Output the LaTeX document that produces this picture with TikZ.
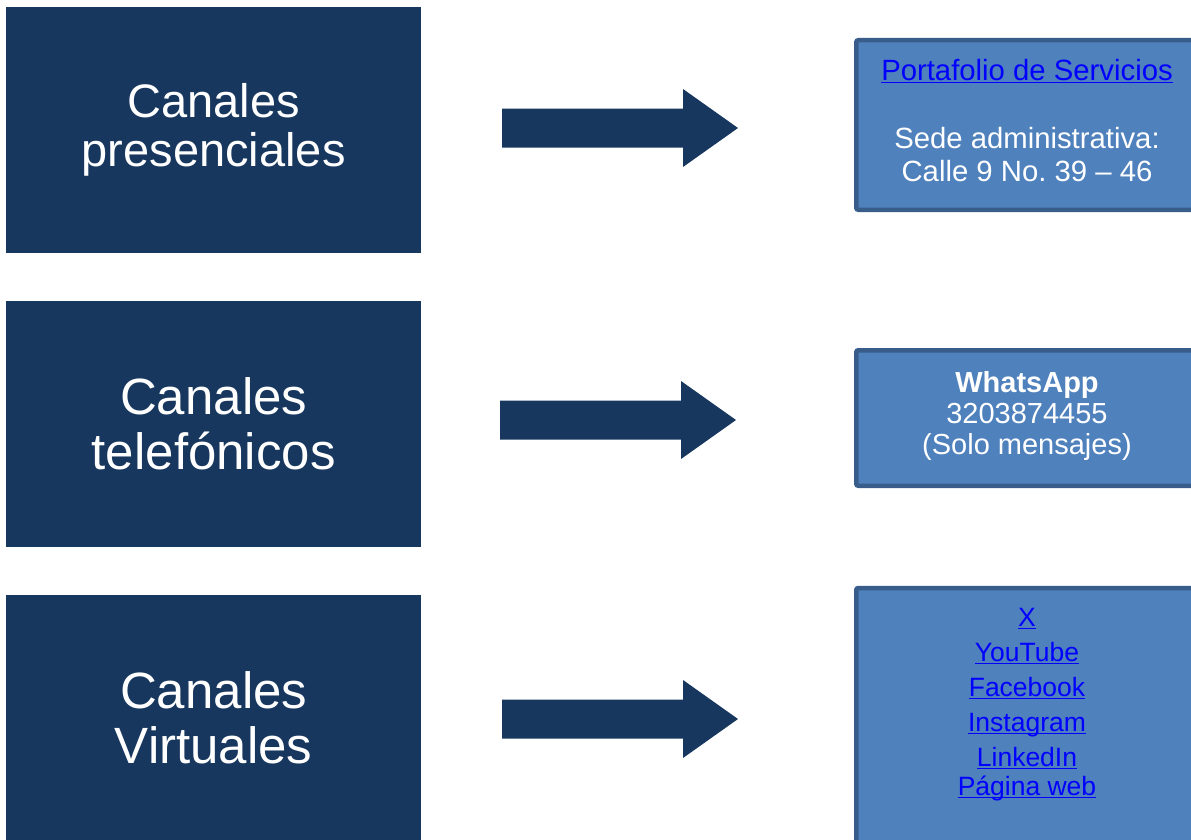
\documentclass[tikz,border=0pt]{standalone}
\usepackage{fontspec}
\setmainfont{Liberation Sans}
\frenchspacing
\definecolor{darkblue}{HTML}{17375E}
\definecolor{midblue}{HTML}{4F81BD}
\definecolor{edgeblue}{HTML}{385D8A}
\definecolor{linkblue}{HTML}{0000FF}
\newcommand\ulink[1]{\setbox0=\hbox{#1}\rlap{\rule[-3bp]{\wd0}{1.8bp}}\box0}
\tikzset{
  leftbox/.style={fill=darkblue, text=white, align=center, inner sep=0pt, anchor=north west,
    minimum width=415bp, minimum height=246bp},
  rightbox/.style={fill=midblue, draw=edgeblue, line width=4.5bp, rounded corners=2bp,
    inner sep=0pt, minimum width=341.5bp},
  infotext/.style={text=white, align=center, inner sep=0pt, anchor=north},
  blockarrow/.style={fill=darkblue}
}
\begin{document}
\begin{tikzpicture}[x=1bp,y=-1bp]
\useasboundingbox (0,0) rectangle (1191,840);
\clip (0,0) rectangle (1191,840);
% left boxes
\node[leftbox, font=\fontsize{47bp}{49bp}\selectfont] (p1) at (6,7) {Canales\\presenciales};
\node[leftbox, font=\fontsize{51bp}{55bp}\selectfont] (p2) at (6,301) {Canales\\telefónicos};
\node[leftbox, font=\fontsize{51bp}{55bp}\selectfont] (p3) at (6,595) {Canales\\Virtuales};
% block arrows
\coordinate (a1) at (502,128);
\coordinate (a2) at (500,420);
\coordinate (a3) at (502,719);
\foreach \a in {a1,a2,a3}{
  \fill[blockarrow] (\a) ++(0,-19.5) -- ++(181,0) -- ++(0,-19.5) -- ++(55,39) -- ++(-55,39)
    -- ++(0,-19.5) -- ++(-181,0) -- cycle;
}
% right boxes
\node[rightbox, minimum height=169.5bp] (r1) at (1027,125) {};
\node[rightbox, minimum height=135.5bp] (r2) at (1027,418) {};
\node[rightbox, minimum height=270bp] (r3) at (1027,723) {};
% right texts
\node[infotext, font=\fontsize{29.3bp}{33bp}\selectfont] (t1) at (1027,59)
  {{\color{linkblue}\ulink{Portafolio de Servicios}}\\[35bp]Sede administrativa:\\Calle 9 No. 39 – 46};
\node[infotext, font=\fontsize{29bp}{31bp}\selectfont] (t2) at (1027,371)
  {\textbf{WhatsApp}\\3203874455\\(Solo mensajes)};
\node[infotext, text=linkblue, font=\fontsize{26.5bp}{29bp}\selectfont] (t3) at (1027,608)
  {\ulink{X}\\[6bp]\ulink{YouTube}\\[6bp]\ulink{Facebook}\\[6bp]\ulink{Instagram}\\[6bp]\ulink{LinkedIn}\\\ulink{Página web}};
\end{tikzpicture}
\end{document}
